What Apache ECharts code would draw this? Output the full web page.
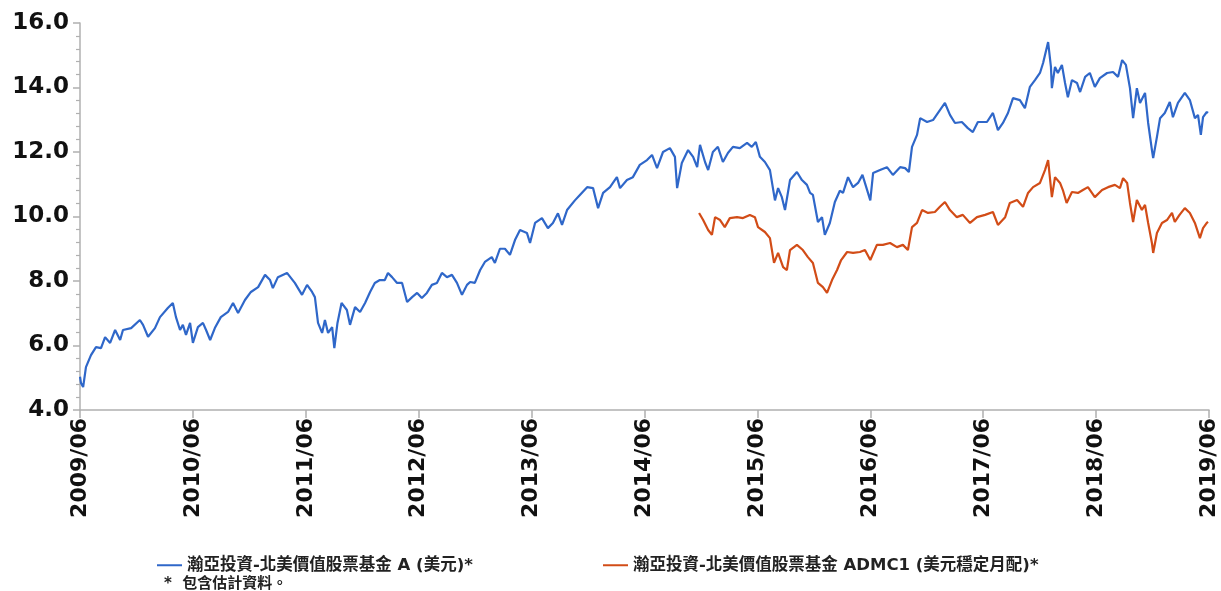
<!DOCTYPE html>
<html>
<head>
<meta charset="utf-8">
<script src="https://cdn.jsdelivr.net/npm/echarts@6/dist/echarts.min.js"></script>
<style>html,body{margin:0;padding:0;background:#fff;}#c{width:1221px;height:591px;}</style>
</head>
<body>
<div id="c"></div>
<script>
const seriesNames = ['瀚亞投資-北美價值股票基金 A (美元)*', '瀚亞投資-北美價值股票基金 ADMC1 (美元穩定月配)*'];
const footnote = '*  包含估計資料。';
const xTickLabels = ['2009/06','2010/06','2011/06','2012/06','2013/06','2014/06','2015/06','2016/06','2017/06','2018/06','2019/06'];

const blueDates = ['2009-06-01','2009-06-04','2009-06-11','2009-06-20','2009-07-06','2009-07-22','2009-08-08','2009-08-21','2009-09-07','2009-09-23','2009-10-09','2009-10-18','2009-11-14','2009-12-12','2009-12-22','2010-01-08','2010-01-30','2010-02-16','2010-03-11','2010-03-27','2010-04-07','2010-04-20','2010-04-29','2010-05-09','2010-05-22','2010-06-01','2010-06-17','2010-07-03','2010-07-13','2010-07-26','2010-08-11','2010-08-30','2010-09-23','2010-10-09','2010-10-25','2010-11-17','2010-12-06','2010-12-29','2011-01-21','2011-02-07','2011-02-16','2011-03-02','2011-04-01','2011-04-26','2011-05-19','2011-06-05','2011-06-21','2011-06-30','2011-07-10','2011-07-23','2011-08-02','2011-08-12','2011-08-25','2011-09-02','2011-09-12','2011-09-25','2011-10-12','2011-10-22','2011-11-08','2011-11-24','2011-12-10','2011-12-26','2012-01-11','2012-01-27','2012-02-13','2012-02-23','2012-03-06','2012-03-22','2012-04-08','2012-04-24','2012-05-10','2012-05-26','2012-06-11','2012-06-27','2012-07-13','2012-07-29','2012-08-15','2012-09-01','2012-09-17','2012-10-03','2012-10-19','2012-11-05','2012-11-15','2012-11-30','2012-12-17','2013-01-02','2013-01-24','2013-02-04','2013-02-20','2013-03-06','2013-03-22','2013-04-08','2013-04-24','2013-05-16','2013-05-26','2013-06-12','2013-07-04','2013-07-23','2013-08-09','2013-08-25','2013-09-08','2013-09-24','2013-10-19','2013-11-05','2013-11-28','2013-12-17','2014-01-03','2014-01-19','2014-02-11','2014-03-03','2014-03-13','2014-04-05','2014-04-24','2014-05-16','2014-06-09','2014-06-25','2014-07-11','2014-07-30','2014-08-22','2014-09-08','2014-09-15','2014-09-30','2014-10-20','2014-11-06','2014-11-19','2014-11-28','2014-12-14','2014-12-24','2015-01-09','2015-01-25','2015-02-11','2015-02-27','2015-03-13','2015-04-05','2015-04-28','2015-05-13','2015-05-26','2015-06-09','2015-06-25','2015-07-11','2015-07-27','2015-08-07','2015-08-19','2015-08-29','2015-09-15','2015-10-07','2015-10-23','2015-11-09','2015-11-19','2015-11-28','2015-12-14','2015-12-27','2016-01-06','2016-01-22','2016-02-08','2016-02-24','2016-03-04','2016-03-20','2016-04-06','2016-04-22','2016-05-06','2016-05-19','2016-05-31','2016-06-10','2016-07-02','2016-07-24','2016-08-13','2016-09-06','2016-09-22','2016-10-04','2016-10-14','2016-10-30','2016-11-10','2016-12-02','2016-12-21','2017-01-13','2017-01-29','2017-02-15','2017-03-01','2017-03-23','2017-04-12','2017-04-28','2017-05-14','2017-06-13','2017-07-02','2017-07-18','2017-08-04','2017-08-20','2017-09-06','2017-09-28','2017-10-14','2017-10-30','2017-11-16','2017-12-02','2017-12-12','2017-12-28','2018-01-07','2018-01-10','2018-01-20','2018-01-29','2018-02-12','2018-02-22','2018-03-01','2018-03-14','2018-03-30','2018-04-10','2018-04-26','2018-05-11','2018-05-27','2018-06-13','2018-07-06','2018-07-25','2018-08-11','2018-08-24','2018-09-06','2018-09-19','2018-09-29','2018-10-11','2018-10-21','2018-11-07','2018-11-17','2018-11-29','2018-12-03','2018-12-15','2018-12-25','2019-01-10','2019-01-26','2019-02-06','2019-02-22','2019-03-14','2019-03-30','2019-04-16','2019-04-26','2019-05-05','2019-05-12','2019-05-24','2019-05-28'];
const blueValues = [5.03,4.84,4.71,5.33,5.70,5.95,5.92,6.26,6.08,6.48,6.17,6.48,6.54,6.79,6.64,6.27,6.54,6.88,7.16,7.32,6.88,6.48,6.64,6.33,6.70,6.08,6.57,6.70,6.48,6.17,6.54,6.88,7.04,7.32,7.01,7.41,7.66,7.81,8.19,8.03,7.78,8.12,8.25,7.94,7.57,7.88,7.66,7.50,6.70,6.39,6.79,6.39,6.57,5.92,6.70,7.32,7.10,6.64,7.19,7.04,7.32,7.66,7.94,8.03,8.03,8.25,8.12,7.94,7.94,7.35,7.50,7.63,7.47,7.63,7.88,7.94,8.25,8.12,8.19,7.94,7.57,7.88,7.97,7.94,8.34,8.59,8.74,8.56,9.00,9.00,8.81,9.27,9.58,9.49,9.18,9.80,9.95,9.64,9.80,10.10,9.74,10.20,10.50,10.67,10.91,10.88,10.26,10.73,10.91,11.22,10.88,11.13,11.22,11.60,11.75,11.91,11.50,12.00,12.12,11.85,10.88,11.66,12.06,11.85,11.53,12.22,11.69,11.44,12.00,12.16,11.69,11.97,12.16,12.12,12.28,12.16,12.31,11.85,11.69,11.44,10.50,10.88,10.60,10.20,11.13,11.38,11.13,10.98,10.73,10.67,9.83,9.98,9.43,9.80,10.45,10.80,10.73,11.22,10.91,11.04,11.29,10.88,10.50,11.35,11.44,11.53,11.29,11.53,11.50,11.38,12.16,12.53,13.05,12.93,12.99,13.30,13.52,13.15,12.90,12.93,12.74,12.62,12.93,12.93,13.21,12.68,12.90,13.21,13.67,13.61,13.36,14.02,14.23,14.45,14.76,15.41,14.64,13.98,14.64,14.45,14.70,14.14,13.70,14.23,14.14,13.86,14.33,14.45,14.02,14.29,14.45,14.48,14.33,14.85,14.70,13.98,13.05,13.98,13.52,13.83,12.90,12.06,11.81,12.47,13.05,13.21,13.55,13.08,13.52,13.83,13.61,13.05,13.15,12.53,13.08,13.24,13.21];

const orangeDates = ['2014-11-25','2014-12-08','2014-12-24','2015-01-06','2015-01-16','2015-02-02','2015-02-17','2015-03-03','2015-03-26','2015-04-15','2015-05-07','2015-05-23','2015-06-03','2015-06-25','2015-07-11','2015-07-24','2015-08-07','2015-08-23','2015-09-05','2015-09-15','2015-10-07','2015-10-26','2015-11-12','2015-11-28','2015-12-14','2015-12-30','2016-01-13','2016-01-29','2016-02-15','2016-02-28','2016-03-17','2016-04-06','2016-04-28','2016-05-14','2016-05-31','2016-06-22','2016-07-11','2016-08-04','2016-08-26','2016-09-15','2016-10-01','2016-10-14','2016-10-30','2016-11-16','2016-12-05','2016-12-27','2017-01-13','2017-01-29','2017-02-15','2017-03-07','2017-03-26','2017-04-19','2017-05-11','2017-06-07','2017-07-02','2017-07-18','2017-08-11','2017-08-26','2017-09-19','2017-10-08','2017-10-24','2017-11-10','2017-12-02','2017-12-18','2017-12-28','2018-01-10','2018-01-20','2018-02-06','2018-02-15','2018-02-27','2018-03-14','2018-04-03','2018-04-19','2018-05-05','2018-05-27','2018-06-20','2018-07-09','2018-08-01','2018-08-17','2018-08-27','2018-09-10','2018-09-19','2018-09-29','2018-10-11','2018-10-27','2018-11-07','2018-11-17','2018-11-29','2018-12-03','2018-12-15','2019-01-01','2019-01-17','2019-02-03','2019-02-12','2019-02-27','2019-03-14','2019-03-30','2019-04-16','2019-05-02','2019-05-12','2019-05-24','2019-05-28'];
const orangeValues = [10.11,9.89,9.58,9.43,9.98,9.89,9.67,9.95,9.98,9.95,10.05,9.98,9.67,9.52,9.33,8.56,8.87,8.43,8.34,8.96,9.12,8.96,8.74,8.56,7.94,7.81,7.63,8.03,8.34,8.65,8.90,8.87,8.90,8.96,8.65,9.12,9.12,9.18,9.05,9.12,8.96,9.67,9.80,10.20,10.11,10.14,10.30,10.45,10.20,9.98,10.05,9.80,9.98,10.05,10.14,9.74,9.98,10.42,10.51,10.30,10.73,10.91,11.04,11.44,11.75,10.60,11.22,11.04,10.82,10.42,10.76,10.73,10.82,10.91,10.60,10.82,10.91,10.98,10.88,11.19,11.04,10.42,9.83,10.51,10.20,10.36,9.80,9.18,8.87,9.49,9.80,9.89,10.11,9.83,10.05,10.26,10.11,9.80,9.33,9.64,9.80,9.83];

const blueColor = '#2f67c9';
const orangeColor = '#d24c17';
const FONT = 'DejaVu Sans, "Noto Sans CJK TC", sans-serif';

// months since 2009-06-01
function toMonths(s) {
  const p = s.split('-').map(Number);
  return (p[0] - 2009) * 12 + (p[1] - 6) + (p[2] - 1) / 30;
}
const blueData = blueDates.map((d, i) => [toMonths(d), blueValues[i]]);
const orangeData = orangeDates.map((d, i) => [toMonths(d), orangeValues[i]]);

const legendText = { fontSize: 16.5, fontWeight: 'bold', color: '#222', fontFamily: FONT };

const chart = echarts.init(document.getElementById('c'));
chart.setOption({
  animation: false,
  backgroundColor: '#fff',
  grid: { left: 80, right: 12, top: 23, bottom: 181, containLabel: false },
  xAxis: {
    type: 'value', min: 0, max: 120, interval: 12,
    axisLine: { show: true, lineStyle: { color: '#b0b0b0', width: 1.5 } },
    axisTick: { show: true, length: 8, lineStyle: { color: '#b0b0b0', width: 1.5 } },
    splitLine: { show: false },
    axisLabel: {
      rotate: 90, margin: 8, color: '#111', fontSize: 22, fontWeight: 'bold', fontFamily: FONT,
      formatter: v => xTickLabels[Math.round(v / 12)]
    }
  },
  yAxis: {
    type: 'value', min: 4, max: 16, interval: 2,
    axisLine: { show: true, lineStyle: { color: '#b0b0b0', width: 1.5 } },
    axisTick: { show: true, length: 7, lineStyle: { color: '#b0b0b0', width: 1.5 } },
    minorTick: { show: true, splitNumber: 5, length: 4, lineStyle: { color: '#b0b0b0', width: 1.2 } },
    splitLine: { show: false },
    axisLabel: {
      margin: 11, color: '#111', fontSize: 23, fontWeight: 'bold', fontFamily: FONT,
      formatter: v => v.toFixed(1)
    }
  },
  legend: [
    {
      data: [seriesNames[0]], left: 152, top: 552, icon: 'rect', itemWidth: 25, itemHeight: 2,
      textStyle: legendText
    },
    {
      data: [seriesNames[1]], left: 598, top: 552, icon: 'rect', itemWidth: 25, itemHeight: 2,
      textStyle: legendText
    }
  ],
  graphic: [{
    type: 'text', left: 164, top: 577,
    style: { text: footnote, fontSize: 15, fontWeight: 'bold', fill: '#222', fontFamily: FONT }
  }],
  series: [
    {
      name: seriesNames[0], type: 'line', data: blueData, showSymbol: false,
      lineStyle: { color: blueColor, width: 2.2 }, itemStyle: { color: blueColor }
    },
    {
      name: seriesNames[1], type: 'line', data: orangeData, showSymbol: false,
      lineStyle: { color: orangeColor, width: 2.2 }, itemStyle: { color: orangeColor }
    }
  ]
});
</script>
</body>
</html>
